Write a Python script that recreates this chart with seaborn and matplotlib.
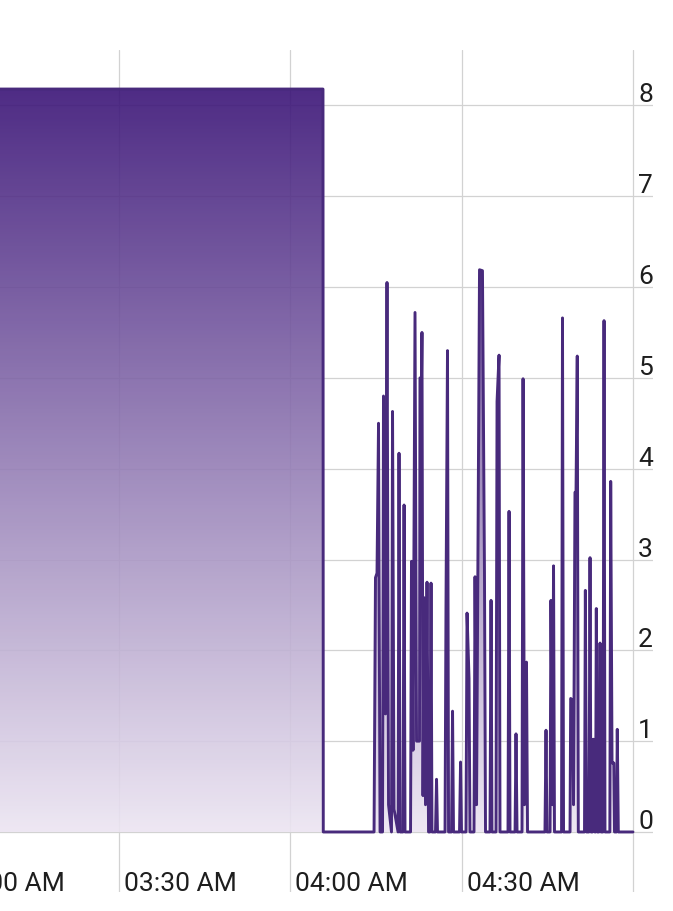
import numpy as np
import pandas as pd
import matplotlib
matplotlib.use("Agg")
import matplotlib.pyplot as plt
import matplotlib.dates as mdates
from matplotlib.colors import LinearSegmentedColormap
from matplotlib.transforms import ScaledTranslation
import seaborn as sns

# ---------------- data ----------------
DAY = "2024-01-01 "

times = [
    "02:40:00", "04:05:46", "04:05:49",
    "04:14:42", "04:14:57", "04:15:13", "04:15:29", "04:15:45",
    "04:16:11", "04:16:21", "04:16:42", "04:16:58", "04:17:14",
    "04:17:45", "04:17:56", "04:18:12",
    "04:18:54", "04:19:04", "04:19:15",
    "04:19:46", "04:19:57", "04:20:07",
    "04:21:05", "04:21:15", "04:21:31", "04:21:52", "04:22:08", "04:22:39", "04:22:44",
    "04:23:00", "04:23:05", "04:23:16", "04:23:26", "04:23:42", "04:23:58", "04:24:14",
    "04:24:29", "04:24:40", "04:24:50",
    "04:25:27", "04:25:38", "04:25:48",
    "04:27:07", "04:27:17", "04:27:33", "04:27:44",
    "04:28:15", "04:28:26", "04:28:36",
    "04:29:39", "04:29:50", "04:30:00",
    "04:30:47", "04:30:58", "04:31:19", "04:31:29",
    "04:32:11", "04:32:22", "04:32:38", "04:33:09", "04:33:40", "04:34:01", "04:34:12",
    "04:34:59", "04:35:10", "04:35:20",
    "04:36:02", "04:36:13", "04:36:34", "04:36:44",
    "04:38:08", "04:38:19", "04:38:29",
    "04:39:22", "04:39:32", "04:39:43",
    "04:40:35", "04:40:46", "04:41:01", "04:41:22", "04:41:33",
    "04:44:36", "04:44:47", "04:44:57",
    "04:45:29", "04:45:39", "04:45:55", "04:46:06", "04:46:16",
    "04:47:30", "04:47:40", "04:47:51",
    "04:48:59", "04:49:06", "04:49:27", "04:49:36", "04:49:51", "04:50:02", "04:50:15", "04:50:26",
    "04:51:31", "04:51:40", "04:51:52",
    "04:52:18", "04:52:29", "04:52:39",
    "04:52:55", "04:53:00", "04:53:11", "04:53:19",
    "04:53:27", "04:53:35", "04:53:45",
    "04:54:03", "04:54:14", "04:54:24",
    "04:54:45", "04:54:56", "04:55:06",
    "04:55:57", "04:56:06", "04:56:20", "04:56:39", "04:56:46",
    "04:57:07", "04:57:15", "04:57:26",
    "05:00:00",
]

values = [
    8.18, 8.18, 0,
    0, 2.80, 2.85, 4.50, 0,
    0, 4.80, 1.30, 6.05, 0.30,
    0, 4.63, 0.25,
    0, 4.17, 0,
    0, 3.60, 0,
    0, 2.98, 0.90, 5.72, 1.00, 1.00, 5.00,
    5.00, 5.50, 0.40, 2.58, 0.30, 2.75, 0,
    0, 2.74, 0,
    0, 0.58, 0,
    0, 2.47, 5.30, 0,
    0, 1.33, 0,
    0, 0.77, 0,
    0, 2.41, 1.69, 0,
    0, 2.81, 0.30, 6.19, 6.18, 2.86, 0,
    0, 2.55, 0,
    0, 4.74, 5.25, 0,
    0, 3.53, 0,
    0, 1.08, 0,
    0, 4.99, 0.30, 1.87, 0,
    0, 1.12, 0,
    0, 2.55, 0.30, 2.93, 0,
    0, 5.66, 0,
    0, 1.47, 1.45, 0.30, 3.74, 3.74, 5.24, 0,
    0, 2.66, 0,
    0, 3.02, 0,
    0, 1.02, 1.02, 0,
    0, 2.46, 0,
    0, 2.08, 0,
    0, 5.63, 0,
    0, 3.86, 0.76, 0.76, 0,
    0, 1.13, 0,
    0,
]

tick_times = ["03:00", "03:30", "04:00", "04:30", "05:00"]
tick_labels = ["03:00 AM", "03:30 AM", "04:00 AM", "04:30 AM", ""]
y_ticks = [0, 1, 2, 3, 4, 5, 6, 7, 8]

# ---------------- style ----------------
sns.set_style("white")
plt.rcParams["font.family"] = ["Roboto", "DejaVu Sans"]

LINE_COLOR = "#482a7c"
TOP_COLOR = "#391276"
BOTTOM_COLOR = "#ece5f2"
GRID_COLOR = "#d2d2d2"
TEXT_COLOR = "#1e1e1e"
FS = 19

df = pd.DataFrame({
    "time": pd.to_datetime([DAY + t for t in times]),
    "value": values,
})

W, H = 673, 911
fig = plt.figure(figsize=(W / 100, H / 100), dpi=100)
ax = fig.add_axes([-60 / W, (H - 892) / H, 713 / W, 842 / H])

x0 = pd.Timestamp(DAY + "02:58:46")
x1 = pd.Timestamp(DAY + "05:03:30")

# gradient fill clipped to the area under the line
poly = ax.fill_between(df["time"], df["value"], 0, facecolor="none", edgecolor="none")
cmap = LinearSegmentedColormap.from_list("grad", [BOTTOM_COLOR, TOP_COLOR])
grad = np.linspace(0, 1, 256)[:, None]
im = ax.imshow(grad, cmap=cmap, aspect="auto", origin="lower",
               extent=[mdates.date2num(x0) - 1, mdates.date2num(x1), 0, 8.25],
               alpha=0.9, zorder=1.5, interpolation="bilinear")
im.set_clip_path(poly.get_paths()[0], transform=ax.transData)

sns.lineplot(data=df, x="time", y="value", color=LINE_COLOR, linewidth=2.1,
             estimator=None, sort=False, ax=ax, zorder=3)

ax.set_xlim(x0, x1)
ax.set_ylim(-0.661, 8.61)
ax.set_xlabel("")
ax.set_ylabel("")

ax.set_xticks(pd.to_datetime([DAY + t for t in tick_times]))
ax.set_xticklabels(tick_labels)
ax.set_yticks(y_ticks)
ax.set_yticklabels([str(v) for v in y_ticks])
ax.yaxis.tick_right()

ax.grid(True, color=GRID_COLOR, linewidth=0.9)
ax.set_axisbelow(True)
for s in ax.spines.values():
    s.set_visible(False)

ax.tick_params(axis="x", length=0, pad=-0.72, labelsize=FS, colors=TEXT_COLOR)
ax.tick_params(axis="y", length=0, pad=-10.8, labelsize=FS, colors=TEXT_COLOR,
               left=False, right=False, labelleft=False, labelright=True)

dx = ScaledTranslation(5 / 100, 0, fig.dpi_scale_trans)
for lbl in ax.get_xticklabels():
    lbl.set_ha("left")
    lbl.set_va("baseline")
    lbl.set_transform(lbl.get_transform() + dx)
dy = ScaledTranslation(0, 3 / 100, fig.dpi_scale_trans)
for lbl in ax.get_yticklabels():
    lbl.set_ha("left")
    lbl.set_va("baseline")
    lbl.set_transform(lbl.get_transform() + dy)

fig.savefig("out.png", dpi=100)
